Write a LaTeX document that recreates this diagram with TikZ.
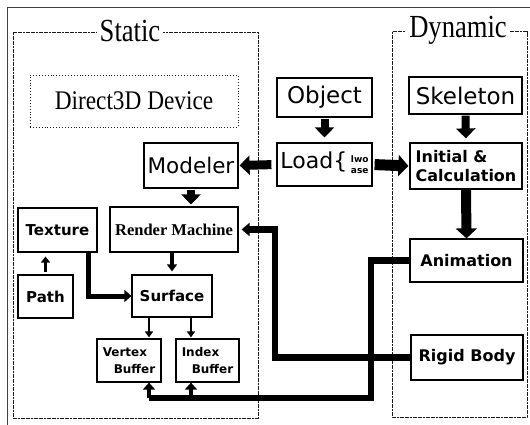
\documentclass[tikz,border=0pt]{standalone}
\usepackage{fontspec}
\setmainfont{Liberation Serif}
\newfontfamily\labelsans{DejaVu Sans}
\usetikzlibrary{arrows.meta}

\begin{document}
\begin{tikzpicture}[x=1pt,y=-1pt,
  box/.style={draw=black, line width=1.2pt, rectangle, inner sep=0pt, align=center},
  frame/.style={draw=black!90, line width=1pt, dash pattern=on 2pt off 0.6pt},
  title/.style={fill=white, inner xsep=3pt, inner ysep=1pt, font=\fontsize{28}{30}\selectfont},
  plainsans/.style={font=\labelsans\fontsize{22}{24}\selectfont},
  boldsans/.style={font=\labelsans\bfseries\fontsize{15}{17}\selectfont},
  smallbold/.style={font=\labelsans\bfseries\fontsize{12}{16.5}\selectfont, align=left},
  dynbold/.style={font=\labelsans\bfseries\fontsize{16}{19}\selectfont},
  stub/.style={line width=8pt, -{Triangle[width=19pt,length=10pt]}},
  bigarrow/.style={line width=11pt, -{Triangle[width=21pt,length=10pt]}},
  conn/.style={line width=6.5pt},
  connarrow/.style={line width=6.5pt, -{Triangle[width=13pt,length=8pt]}},
  midarrow/.style={line width=4.5pt, -{Triangle[width=12pt,length=7pt]}},
  smallarrow/.style={line width=3pt, -{Triangle[width=9pt,length=6pt]}}
]
\useasboundingbox (0,0) rectangle (530,425);

% page edge
\draw[black!75, line width=0.8pt] (7,425) -- (7,7) -- (530,7);

% group frames
\draw[frame] (13,33) rectangle (258,418);
\node[title] (statictitle) at (130,31) {\scalebox{0.95}[1.15]{Static}};
\draw[frame] (392,32) rectangle (527,417);
\node[title] (dynamictitle) at (458,30) {\scalebox{0.95}[1.15]{Dynamic}};

% static side
\node[box, draw=black!90, line width=0.9pt, dotted, minimum width=208pt, minimum height=52pt,
      font=\fontsize{24}{26}\selectfont] (d3d) at (134,101) {\scalebox{0.97}[1.12]{Direct3D Device}};
\node[box, plainsans, font=\labelsans\fontsize{21.5}{24}\selectfont,
      minimum width=94pt, minimum height=45pt] (modeler) at (191,165.5) {Modeler};
\node[box, boldsans, minimum width=79pt, minimum height=44pt] (texture) at (57.5,230) {Texture};
\node[box, font=\bfseries\fontsize{16.5}{18}\selectfont,
      minimum width=128pt, minimum height=45pt] (render) at (174,229.5) {Render Machine};
\node[box, boldsans, minimum width=55pt, minimum height=43pt] (path) at (45.5,296.5) {Path};
\node[box, boldsans, minimum width=80pt, minimum height=42pt] (surface) at (172,296) {Surface};
\node[box, smallbold, minimum width=64pt, minimum height=43pt] (vertex) at (129,360.5)
      {Vertex\\\hspace*{11pt}Buffer};
\node[box, smallbold, minimum width=63pt, minimum height=43pt] (index) at (207.5,360.5)
      {Index\\\hspace*{10pt}Buffer};

% middle column
\node[box, plainsans, font=\labelsans\fontsize{23}{24}\selectfont,
      minimum width=95pt, minimum height=39pt] (object) at (324.5,97.5) {Object};
\node[box, plainsans, minimum width=95pt, minimum height=43pt] (load) at (324.5,164.5)
      {Load\{\,{\bfseries\fontsize{9}{11}\selectfont\begin{tabular}[c]{@{}l@{}}lwo\\ase\end{tabular}}};

% dynamic side
\node[box, plainsans, font=\labelsans\fontsize{23}{24}\selectfont,
      minimum width=113pt, minimum height=37pt] (skeleton) at (465.5,95.5) {Skeleton};
\node[box, dynbold, align=left,
      minimum width=112pt, minimum height=46pt] (initial) at (466,166) {Initial \&\\Calculation};
\node[box, dynbold, minimum width=113pt, minimum height=43pt] (animation) at (466.5,260.5) {Animation};
\node[box, dynbold, minimum width=112pt, minimum height=45pt] (rigid) at (467,357.5) {Rigid Body};

% bend points and drop columns
\coordinate (rbk) at (275,357.5);
\coordinate (ak) at (371,260.5);
\coordinate (ab) at (371,398);
\coordinate (av) at (149,398);
\coordinate (ai) at (191,398);
\coordinate (tx) at (88,0);

% block arrows
\draw[stub, shorten <=1pt, shorten >=5pt] (object.south) -- (load.north);
\draw[stub, shorten <=1pt, shorten >=4pt] (skeleton.south) -- (initial.north);
\draw[stub, shorten <=1pt, shorten >=2pt] (modeler.south) -- (render.north -| modeler.south);
\draw[bigarrow, line width=9pt, -{Triangle[width=19pt,length=10pt]}, shorten <=5pt, shorten >=1pt]
      (load.west) -- (modeler.east);
\draw[bigarrow, shorten <=2pt, shorten >=1pt] (load.east) -- (initial.west);
\draw[bigarrow, line width=10pt, shorten <=0pt, shorten >=0pt] (initial.south) -- (animation.north);

% static internal arrows
\draw[smallarrow, shorten <=2pt, shorten >=4pt] (path.north) -- (texture.south -| path.north);
\draw[smallarrow, line width=3.5pt, -{Triangle[width=10pt,length=7pt]}, shorten >=3pt]
      (render.south -| surface.north) -- (surface.north);
\draw[midarrow, line width=5pt] (texture.south -| tx) |- (surface.west);
\draw[smallarrow, line width=2.5pt, -{Triangle[width=8pt,length=6pt]}, shorten >=1pt]
      (surface.south -| av) -- (vertex.north -| av);
\draw[smallarrow, line width=2.5pt, -{Triangle[width=8pt,length=6pt]}, shorten >=1pt]
      (surface.south -| ai) -- (index.north -| ai);

% dynamic to static connectors
\draw[conn] (animation.west) -- (ak) -- (ab) -- (av);
\draw[midarrow] (av) -- (vertex.south -| av);
\draw[midarrow] (ai) -- (index.south -| ai);
\draw[connarrow, shorten >=3pt] (rigid.west) -- (rbk) |- (render.east);
\end{tikzpicture}
\end{document}
